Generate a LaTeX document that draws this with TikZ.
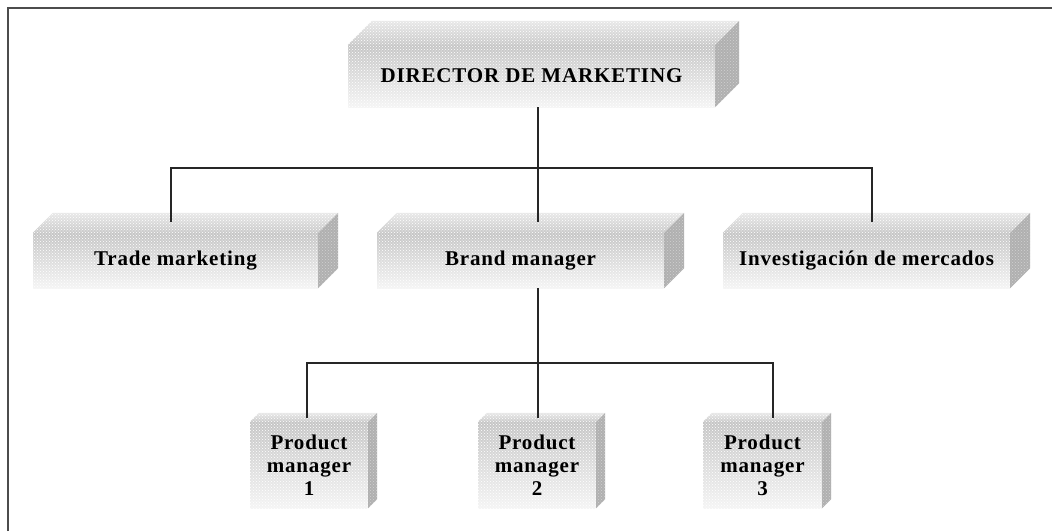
\documentclass[tikz,border=0pt]{standalone}
\usepackage{fontspec}
\setmainfont{Liberation Serif}
\newfontfamily\blockfont[LetterSpace=4]{Liberation Serif}
\usepackage{tikz}
\usetikzlibrary{patterns}

\tikzset{
    blockfront/.style={inner sep=0pt, align=center, top color=gray!45, bottom color=gray!8,
        postaction={pattern=crosshatch dots, pattern color=white}, 
        font=\blockfont\bfseries\fontsize{21}{23}\selectfont},
    topface/.style={top color=gray!18, bottom color=gray!42,
        postaction={pattern=crosshatch dots, pattern color=white}},
    sideface/.style={fill=gray!62, postaction={pattern=crosshatch dots, pattern color=gray!35}},
    link/.style={line width=2pt, black!85}
}

\begin{document}
\begin{tikzpicture}[x=1pt, y=-1pt]
            \useasboundingbox (0,0) rectangle (1052,531);
            \draw[line width=1.5pt, gray!60!black] (8,531) -- (8,8) -- (1052,8);

            % Nodes
            \node[blockfront, minimum width=367, minimum height=62] (dir) at (531.5,76) {DIRECTOR DE MARKETING};
            \node[blockfront, minimum width=285, minimum height=55] (trade) at (175.5,260.5) {Trade marketing};
            \node[blockfront, minimum width=287, minimum height=55] (brand) at (520.5,260.5) {Brand manager};
            \node[blockfront, minimum width=287, minimum height=55] (inv) at (866.5,260.5) {Investigación de mercados};
            \node[blockfront, minimum width=118, minimum height=86] (pm1) at (309,465) {Product\\manager\\1};
            \node[blockfront, minimum width=118, minimum height=86] (pm2) at (537,465) {Product\\manager\\2};
            \node[blockfront, minimum width=119, minimum height=86] (pm3) at (762.5,465) {Product\\manager\\3};

            % Faces
            \foreach \n/\d in {dir/24, trade/20, brand/20, inv/20, pm1/9, pm2/9, pm3/9} {
                \path[topface] (\n.north west) -- ++(\d,-\d) -- ([shift={(\d,-\d)}]\n.north east) -- (\n.north east) -- cycle;
                \path[sideface] (\n.north east) -- ++(\d,-\d) -- ([shift={(\d,-\d)}]\n.south east) -- (\n.south east) -- cycle;
            }

            % Lines
            \coordinate (bus1) at (538,168);
            \coordinate (bus2) at (538,363);
            \draw[link] (dir.south -| bus1) -- (bus1);
            \draw[link, shorten >=11pt] (bus1) -| ([xshift=-5]trade.north);
            \draw[link, shorten >=11pt] (bus1) -- (bus1 |- brand.north);
            \draw[link, shorten >=11pt] (bus1) -| ([xshift=5]inv.north);
            \draw[link] (bus2 |- brand.south) -- (bus2);
            \draw[link, shorten >=4pt] (bus2) -| ([xshift=-2]pm1.north);
            \draw[link, shorten >=4pt] (bus2) -- (bus2 |- pm2.north);
            \draw[link, shorten >=4pt] (bus2) -| ([xshift=10.5]pm3.north);
        \end{tikzpicture}
\end{document}
